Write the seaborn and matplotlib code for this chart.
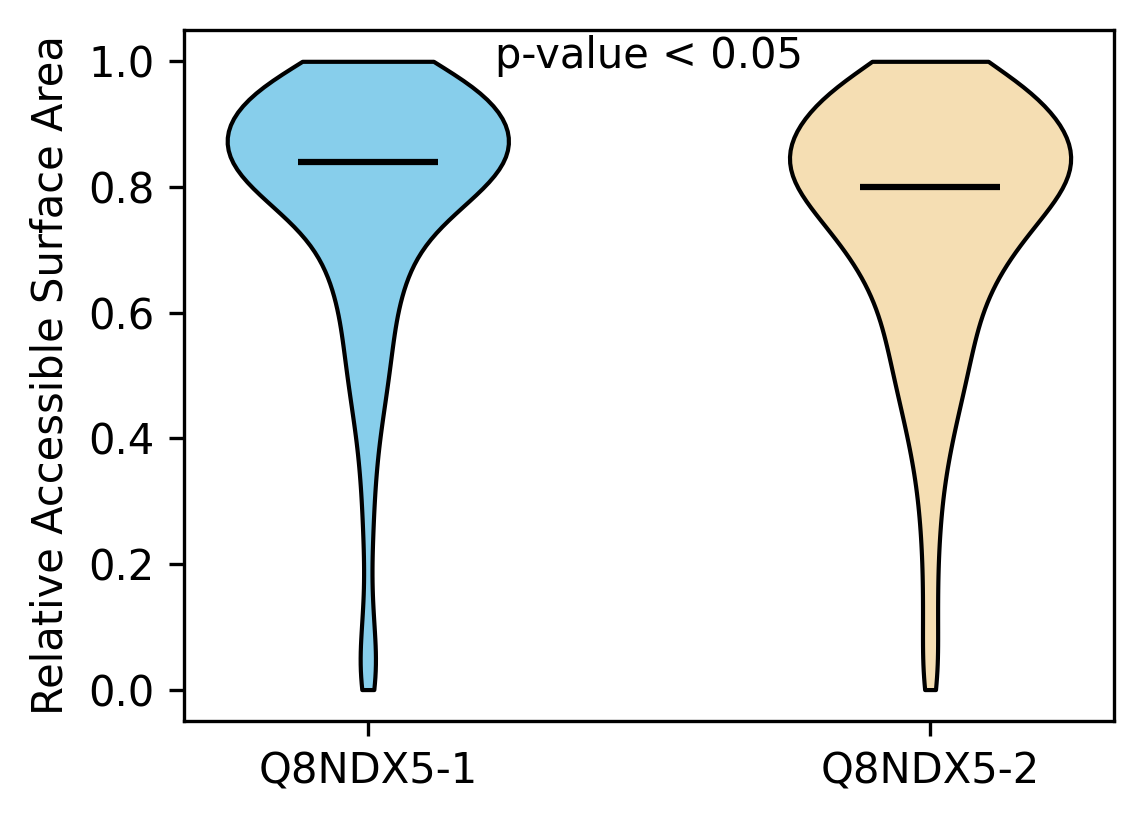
import numpy as np
import pandas as pd
import matplotlib
matplotlib.use("Agg")
import matplotlib.pyplot as plt
import seaborn as sns

rsa_levels = [0.00, 0.02, 0.04, 0.06, 0.08, 0.10, 0.12, 0.14, 0.16, 0.18,
              0.20, 0.22, 0.24, 0.26, 0.28, 0.30, 0.32, 0.34, 0.36, 0.38,
              0.40, 0.42, 0.44, 0.46, 0.48, 0.50, 0.52, 0.54, 0.56, 0.58,
              0.60, 0.62, 0.64, 0.66, 0.68, 0.70, 0.72, 0.74, 0.76, 0.78,
              0.80, 0.82, 0.84, 0.86, 0.88, 0.90, 0.92, 0.94, 0.96, 0.98, 1.00]
counts_iso1 = [5, 4, 4, 3, 3, 2, 2, 2, 1, 1,
               1, 2, 2, 2, 2, 2, 3, 3, 3, 4,
               4, 5, 6, 7, 7, 8, 9, 9, 10, 10,
               10, 12, 13, 15, 16, 18, 20, 25, 32, 39,
               48, 54, 57, 57, 58, 57, 54, 48, 44, 40, 36]
counts_iso2 = [5, 4, 3, 3, 3, 3, 3, 3, 3, 3,
               3, 3, 4, 4, 4, 5, 5, 6, 7, 8,
               9, 10, 11, 13, 14, 15, 16, 17, 18, 19,
               20, 22, 24, 27, 30, 34, 37, 43, 46, 53,
               56, 62, 62, 61, 59, 55, 51, 45, 41, 37, 34]
isoforms = ['Q8NDX5-1', 'Q8NDX5-2']
colors = ['#87CEEB', '#F5DEB3']

df = pd.DataFrame({
    'isoform': [isoforms[0]] * sum(counts_iso1) + [isoforms[1]] * sum(counts_iso2),
    'rsa': np.concatenate([np.repeat(rsa_levels, counts_iso1),
                           np.repeat(rsa_levels, counts_iso2)]),
})

fig, ax = plt.subplots(figsize=(3.813, 2.747), dpi=300)
fig.subplots_adjust(left=0.1608, right=0.9738, top=0.9636, bottom=0.125)

sns.violinplot(data=df, x='isoform', y='rsa', hue='isoform', order=isoforms,
               hue_order=isoforms, palette=colors, saturation=1, cut=0,
               inner=None, width=0.5, density_norm='width', bw_method=0.25,
               linecolor='black', linewidth=1, legend=False, ax=ax)

# median bars
for i, name in enumerate(isoforms):
    med = np.median(df.loc[df['isoform'] == name, 'rsa'])
    ax.hlines(med, i - 0.125, i + 0.125, color='black', linewidth=1.5, zorder=3)

ax.text(0.5, 0.99, 'p-value < 0.05', ha='center', va='baseline', fontsize=10)

ax.set_xlim(-0.327, 1.327)
ax.set_ylim(-0.05, 1.05)
ax.set_yticks([0.0, 0.2, 0.4, 0.6, 0.8, 1.0])
ax.set_xlabel('')
ax.set_ylabel('Relative Accessible Surface Area')

fig.savefig('out.png', dpi=300)
